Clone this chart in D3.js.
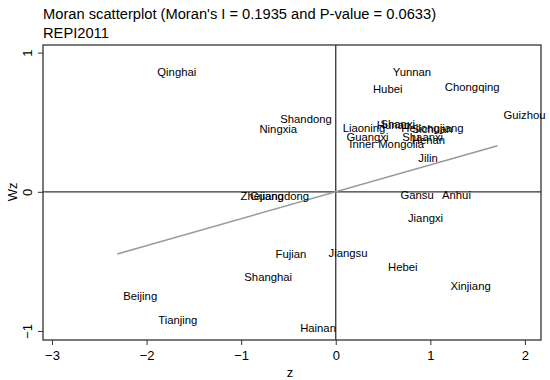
<!DOCTYPE html>
<html>
<head>
<meta charset="utf-8">
<script src="https://cdn.jsdelivr.net/npm/d3@7"></script>
<style>
  body { margin: 0; background: #fff; }
  text { font-family: "Liberation Sans", Arial, sans-serif; }
</style>
</head>
<body>
<div id="chart"></div>
<script>
// provinces, standardised value z and spatial lag Wz
const provinces = ["Qinghai","Yunnan","Hubei","Chongqing","Guizhou","Shandong","Ningxia","Liaoning","Hunan","Shanxi",
  "Heilongjiang","Sichuan","Shaanxi","Henan","Guangxi","Inner Mongolia","Jilin","Zhejiang","Guangdong","Gansu",
  "Anhui","Jiangxi","Jiangsu","Hebei","Xinjiang","Fujian","Shanghai","Beijing","Tianjing","Hainan"];
const zValues = [-1.95, 0.54, 0.33, 1.09, 1.71, -0.65, -0.87, 0.01, 0.37, 0.41,
  0.63, 0.74, 0.64, 0.74, 0.05, 0.08, 0.81, -1.07, -0.97, 0.62,
  1.06, 0.70, -0.14, 0.49, 1.15, -0.70, -1.03, -2.31, -1.94, -0.44];
const wzValues = [0.86, 0.86, 0.74, 0.75, 0.55, 0.52, 0.45, 0.46, 0.48, 0.49,
  0.46, 0.45, 0.39, 0.37, 0.39, 0.34, 0.24, -0.03, -0.03, -0.025,
  -0.025, -0.19, -0.44, -0.54, -0.68, -0.45, -0.61, -0.75, -0.92, -0.98];
const xTicks = [-3, -2, -1, 0, 1, 2];
const yTicks = [-1, 0, 1];
const moranI = 0.1935;
const title1 = "Moran scatterplot (Moran's I = 0.1935 and P-value = 0.0633)";
const title2 = "REPI2011";

const data = provinces.map((p, i) => ({name: p, z: zValues[i], wz: wzValues[i]}));

const W = 550, H = 380;
const margin = {top: 45, right: 9, bottom: 40, left: 43};
const width = W - margin.left - margin.right;
const height = H - margin.top - margin.bottom;

const svg = d3.select("#chart").append("svg")
  .attr("width", W).attr("height", H);

svg.append("text").attr("x", 43).attr("y", 19)
  .attr("font-size", 14.7).attr("fill", "#000").text(title1);
svg.append("text").attr("x", 43).attr("y", 38)
  .attr("font-size", 14.7).attr("fill", "#000").text(title2);

const g = svg.append("g")
  .attr("transform", "translate(" + margin.left + "," + margin.top + ")");

const xScale = d3.scaleLinear().domain([-3.095, 2.17]).range([0, width]);
const yScale = d3.scaleLinear().domain([-1.065, 1.055]).range([height, 0]);

// axes
const xAxis = g.append("g").attr("transform", "translate(0," + height + ")")
  .call(d3.axisBottom(xScale).tickValues(xTicks).tickSize(5).tickPadding(6)
    .tickFormat(d => d < 0 ? "\u2212" + Math.abs(d) : d));
const yAxis = g.append("g")
  .call(d3.axisLeft(yScale).tickValues(yTicks).tickSize(5).tickPadding(4)
    .tickFormat(d => d < 0 ? "\u2212" + Math.abs(d) : d));
[xAxis, yAxis].forEach(a => {
  a.select(".domain").remove();
  a.selectAll("line").attr("stroke", "#333");
  a.selectAll("text").attr("font-size", 13).attr("fill", "#000")
    .style("font-family", "'Liberation Sans', Arial, sans-serif");
});
yAxis.selectAll("text")
  .attr("text-anchor", "middle").attr("dy", null)
  .attr("x", 0).attr("y", 0)
  .attr("transform", "translate(-11,0) rotate(-90)");

// axis titles
svg.append("text").attr("x", margin.left + width / 2 - 2).attr("y", 377)
  .attr("text-anchor", "middle").attr("font-size", 13).text("z");
svg.append("text")
  .attr("transform", "translate(17," + (margin.top + yScale(0)) + ") rotate(-90)")
  .attr("text-anchor", "middle").attr("font-size", 13).text("Wz");

// frame and zero lines
g.append("rect").attr("width", width).attr("height", height)
  .attr("fill", "none").attr("stroke", "#333").attr("stroke-width", 1.3);
g.append("line").attr("x1", xScale(0)).attr("x2", xScale(0))
  .attr("y1", 0).attr("y2", height).attr("stroke", "#333").attr("stroke-width", 1.3);
g.append("line").attr("x1", 0).attr("x2", width)
  .attr("y1", yScale(0)).attr("y2", yScale(0)).attr("stroke", "#333").attr("stroke-width", 1.3);

// fitted line Wz = I * z over the range of z
const [zMin, zMax] = d3.extent(zValues);
g.append("line")
  .attr("x1", xScale(zMin)).attr("y1", yScale(moranI * zMin))
  .attr("x2", xScale(zMax)).attr("y2", yScale(moranI * zMax))
  .attr("stroke", "#999").attr("stroke-width", 1.5);

// labels to the right of each point
g.selectAll(".lbl").data(data).join("text")
  .attr("class", "lbl")
  .attr("x", d => xScale(d.z) + 6)
  .attr("y", d => yScale(d.wz))
  .attr("dy", "0.35em")
  .attr("font-size", 11.3)
  .attr("fill", "#000")
  .text(d => d.name);
</script>
</body>
</html>
